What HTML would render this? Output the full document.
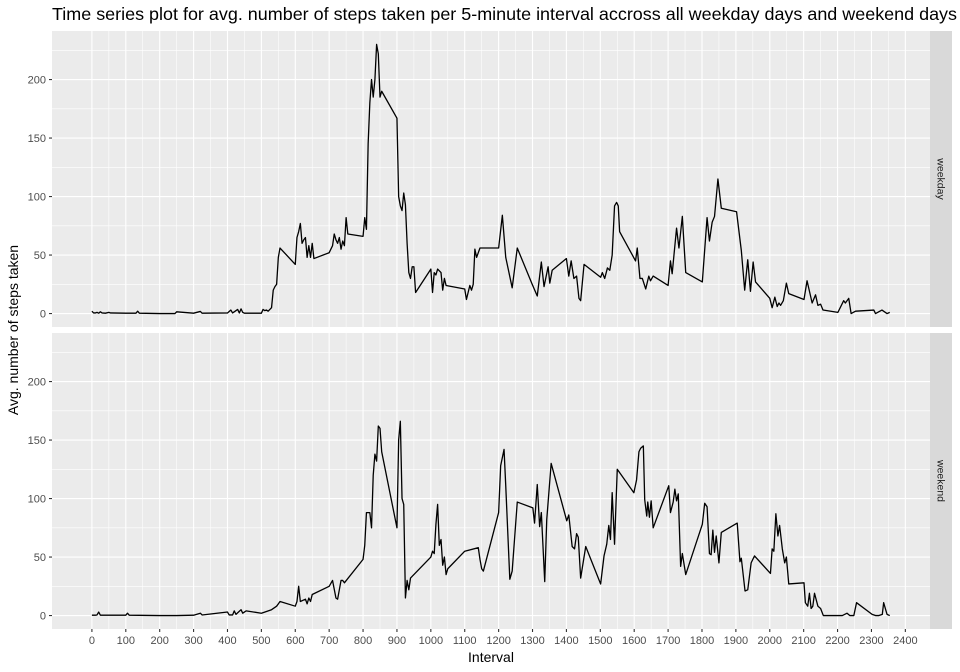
<!DOCTYPE html>
<html><head><meta charset="utf-8"><style>
html,body{margin:0;padding:0;background:#fff;}
svg{display:block;font-family:"Liberation Sans",sans-serif;}
</style></head><body>
<svg id="chart" width="960" height="672" viewBox="0 0 960 672">
<text x="52" y="20" font-size="17.5" fill="#000" textLength="905" lengthAdjust="spacingAndGlyphs">Time series plot for avg. number of steps taken per 5-minute interval accross all weekday days and weekend days</text>
<text x="491" y="662" font-size="14" text-anchor="middle" fill="#000">Interval</text>
<text transform="translate(18,330) rotate(-90)" font-size="14" text-anchor="middle" fill="#000">Avg. number of steps taken</text>
<g id="panels"></g>
</svg>
<script>
const xTicks = [0,100,200,300,400,500,600,700,800,900,1000,1100,1200,1300,1400,1500,1600,1700,1800,1900,2000,2100,2200,2300,2400];
const yTicks = [0,50,100,150,200];
const facetLabels = ["weekday","weekend"];
const weekdayIntervals = [
0,5,10,15,20,25,30,40,50,55,
100,130,135,140,200,245,250,300,320,325,
400,410,415,420,430,435,440,445,450,500,
505,510,515,520,530,535,540,545,550,555,
600,605,610,615,620,625,630,635,640,645,
650,655,700,710,715,720,725,730,735,740,
745,750,755,800,805,810,815,820,825,830,
835,840,845,850,855,900,905,910,915,920,
925,930,935,940,945,950,955,1000,1005,1010,
1015,1020,1030,1035,1040,1045,1100,1105,1110,1115,
1120,1125,1130,1135,1140,1145,1200,1211,1221,1240,
1255,1299,1314,1326,1334,1346,1351,1358,1400,1407,
1414,1422,1430,1437,1442,1452,1501,1506,1513,1521,
1528,1535,1542,1548,1553,1557,1604,1609,1617,1624,
1634,1643,1648,1656,1700,1707,1712,1725,1732,1742,
1752,1801,1815,1822,1830,1837,1847,1857,1902,1916,
1926,1935,1943,1951,1958,2000,2007,2015,2022,2027,
2032,2040,2049,2056,2101,2110,2125,2135,2142,2150,
2157,2201,2218,2223,2233,2240,2253,2307,2312,2331,
2346,2354];
const weekdayValues = [
2,0.5,0.5,1,0.3,1.5,0.5,0.3,1,0.5,
0.3,0.3,2,0.3,0,0,1.5,0.3,1.8,0.3,
0.5,3,0.5,1.5,3.5,0.5,4,1,0.3,0.3,
3.5,2.5,3,2,5,20,23,25,48,56,
42,65,70,77,60,63,65,48,58,48,
60,47,52,58,68,63,60,65,55,62,
58,82,68,66,82,72,145,180,200,185,
200,230,222,185,190,167,100,92,88,103,
93,60,35,30,40,40,18,38,18,35,
33,38,35,20,30,24,21,12,18,24,
20,25,55,48,52,56,56,84,48,22,
56,25,15,44,23,40,26,37,47,32,
45,30,32,13,11,42,31,35,30,39,
37,50,92,95,92,70,45,56,30,30,
21,32,28,32,24,45,34,73,56,83,
35,27,82,62,78,83,115,90,87,54,
20,46,19,44,27,13,5,14,6,9,
7,11,26,17,12,28,9,16,7,8,
3,1,11,9,13,0,2,3,0,3,
0,1];
const weekendIntervals = [
0,5,10,15,20,25,30,100,105,110,
200,250,300,320,325,400,405,415,420,425,
440,445,455,500,530,545,550,555,600,605,
610,615,630,635,640,645,650,700,710,720,
725,730,735,740,745,800,805,810,815,820,
825,830,835,840,845,850,855,900,905,910,
915,920,925,930,935,940,1000,1005,1010,1015,
1020,1025,1030,1035,1040,1045,1050,1100,1140,1145,
1150,1155,1200,1206,1216,1221,1233,1240,1255,1301,
1306,1314,1321,1326,1336,1342,1355,1401,1407,1417,
1424,1430,1435,1442,1457,1501,1511,1519,1525,1530,
1535,1542,1550,1599,1607,1614,1619,1627,1631,1637,
1640,1645,1650,1656,1702,1707,1715,1720,1725,1730,
1737,1742,1752,1801,1808,1815,1822,1827,1832,1837,
1842,1850,1857,1904,1912,1916,1927,1935,1945,1955,
2002,2007,2012,2018,2024,2029,2037,2044,2049,2056,
2101,2105,2112,2117,2122,2127,2132,2142,2150,2158,
2204,2214,2228,2236,2248,2256,2302,2312,2322,2332,
2336,2346,2354];
const weekendValues = [
0.3,0.3,0.3,0.5,3,0.3,0.3,0.3,2,0.3,
0,0,0.3,2,0.5,3,0.5,0.5,4,1,
5,2,4,2,5,8,10,12,8,12,
25,12,14,10,15,12,18,25,30,15,
14,22,30,30,28,48,60,88,88,88,
75,120,138,132,162,160,140,75,150,166,
100,95,15,30,22,32,50,55,53,78,
95,60,65,43,50,35,40,55,58,48,
40,38,88,128,142,111,31,38,97,92,
79,112,76,88,29,82,130,81,86,59,
57,70,67,32,59,27,51,61,77,65,
105,61,125,105,116,140,143,145,99,85,
97,84,98,75,111,88,97,108,98,104,
42,53,35,78,96,93,53,52,73,54,
68,45,71,79,46,49,21,22,45,51,
36,57,55,87,68,77,57,45,50,27,
28,11,8,19,6,8,19,8,6,0,
0,0,2,0,0,11,1,0,0,1,
11,1,0];

const svgNS = "http://www.w3.org/2000/svg";
const root = document.getElementById("panels");
const PX0 = 52, PX1 = 930, XMIN = -117.75, XMAX = 2472.75;
const YMIN = -11.5, YMAX = 241.5;
const panels = [{top:31, bottom:327, xs:weekdayIntervals, ys:weekdayValues},
                {top:333, bottom:629, xs:weekendIntervals, ys:weekendValues}];
function xScale(v){ return PX0 + (v - XMIN) / (XMAX - XMIN) * (PX1 - PX0); }
function mk(tag, attrs){ const e=document.createElementNS(svgNS, tag); for(const k in attrs) e.setAttribute(k, attrs[k]); return e; }

panels.forEach((p, pi) => {
  const yScale = v => p.bottom - (v - YMIN) / (YMAX - YMIN) * (p.bottom - p.top);
  const g = mk("g", {});
  
  
  root.appendChild(g);
  const bg = mk("rect", {x:PX0, y:p.top, width:PX1-PX0, height:p.bottom-p.top, fill:"#ebebeb"});
  
  
  g.appendChild(bg);
  for (let i=0;i<xTicks.length-1;i++){
    const x = xScale((xTicks[i]+xTicks[i+1])/2);
    const l = mk("line",{x1:x,x2:x,y1:p.top,y2:p.bottom,stroke:"#fff","stroke-width":0.55});
    
    
    g.appendChild(l);
  }
  for (let i=0;i<yTicks.length;i++){
    const y = yScale(yTicks[i]+25);
    if (y < p.top) continue;
    const l = mk("line",{x1:PX0,x2:PX1,y1:y,y2:y,stroke:"#fff","stroke-width":0.55});
    
    
    g.appendChild(l);
  }
  xTicks.forEach(t => {
    const x = xScale(t);
    const l = mk("line",{x1:x,x2:x,y1:p.top,y2:p.bottom,stroke:"#fff","stroke-width":1.1});
    
    
    g.appendChild(l);
  });
  yTicks.forEach(t => {
    const y = yScale(t);
    const l = mk("line",{x1:PX0,x2:PX1,y1:y,y2:y,stroke:"#fff","stroke-width":1.1});
    
    
    g.appendChild(l);
    const tk = mk("line",{x1:PX0-3,x2:PX0,y1:y,y2:y,stroke:"#333","stroke-width":1.1});
    
    
    g.appendChild(tk);
    const tx = mk("text",{x:PX0-6,y:y+3.8,"font-size":11,"text-anchor":"end",fill:"#4d4d4d"});
    tx.textContent = t;
    
    
    g.appendChild(tx);
  });
  let d = "";
  const n = Math.min(p.xs.length, p.ys.length);
  for (let i=0;i<n;i++){ d += (i?"L":"M") + xScale(p.xs[i]).toFixed(2) + "," + yScale(p.ys[i]).toFixed(2); }
  const path = mk("path",{d:d,fill:"none",stroke:"#000","stroke-width":1.3,"stroke-linejoin":"round"});
  
  
  g.appendChild(path);
  const st = mk("rect",{x:PX1,y:p.top,width:22,height:p.bottom-p.top,fill:"#d9d9d9"});
  
  
  g.appendChild(st);
  const cy = (p.top+p.bottom)/2;
  const sl = mk("text",{transform:"translate("+(PX1+7.5)+","+cy+") rotate(90)","font-size":10.5,"text-anchor":"middle",fill:"#1a1a1a"});
  sl.textContent = facetLabels[pi];
  
  
  g.appendChild(sl);
});
xTicks.forEach(t => {
  const x = xScale(t);
  const tk = mk("line",{x1:x,x2:x,y1:629,y2:632,stroke:"#333","stroke-width":1.1});
  
  
  root.appendChild(tk);
  const tx = mk("text",{x:x,y:644,"font-size":11,"text-anchor":"middle",fill:"#4d4d4d"});
  tx.textContent = t;
  
  
  root.appendChild(tx);
});
</script>
</body></html>
